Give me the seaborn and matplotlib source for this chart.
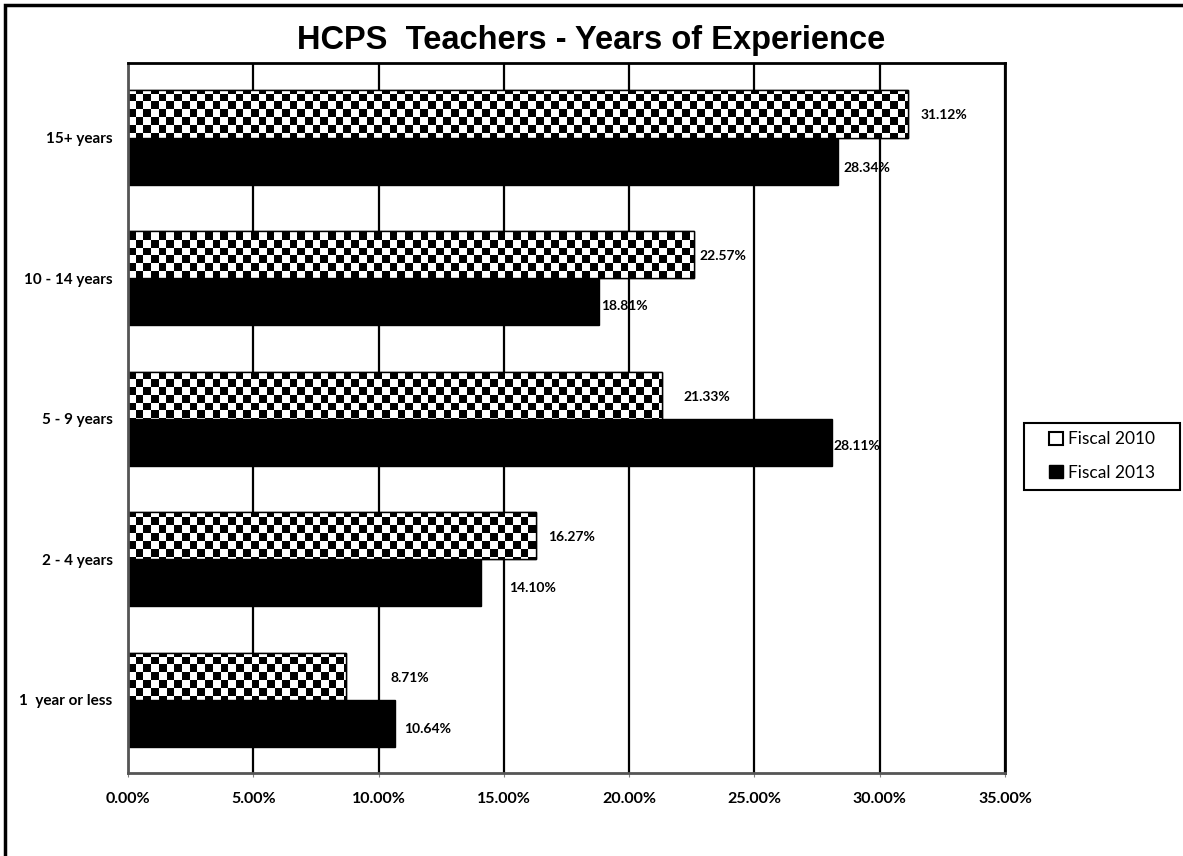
import numpy as np
import pandas as pd
import matplotlib
matplotlib.use("Agg")
import matplotlib.pyplot as plt
import seaborn as sns
from matplotlib.patches import Patch, Rectangle
from matplotlib.ticker import FuncFormatter

categories = ["15+ years", "10 - 14 years", "5 - 9 years", "2 - 4 years", "1  year or less"]
series_names = ["Fiscal 2010", "Fiscal 2013"]
fiscal_2010 = [31.12, 22.57, 21.33, 16.27, 8.71]
fiscal_2013 = [28.34, 18.81, 28.11, 14.10, 10.64]
x_ticks = [0, 5, 10, 15, 20, 25, 30, 35]

# label offsets (points) to mimic the manual placement
label_dx_2010 = [9, 4, 15, 9, 32]
label_dx_2013 = [4, 1, 1, 20, 7]
label_dy_2013 = [-4, -2, -2, -3, -3]

df = pd.DataFrame({
    "category": categories * 2,
    "series": [series_names[0]] * 5 + [series_names[1]] * 5,
    "value": fiscal_2010 + fiscal_2013,
})

sns.set_style("white")
plt.rcParams["font.family"] = ["Lato", "DejaVu Sans"]
plt.rcParams["text.color"] = "black"
plt.rcParams["xtick.color"] = "black"
plt.rcParams["ytick.color"] = "black"

fig = plt.figure(figsize=(11.83, 8.56), dpi=100)
ax = fig.add_axes([128 / 1183, 1 - 773 / 856, (1005 - 128) / 1183, (773 - 63) / 856])

sns.barplot(data=df, y="category", x="value", hue="series", order=categories,
            hue_order=series_names, palette=["white", "black"], orient="h",
            width=0.67, ax=ax, legend=False, edgecolor="black", linewidth=1.0,
            saturation=1)

# checker texture for Fiscal 2010
ncols, nrows = 114, 92
checker = (np.add.outer(np.arange(nrows), np.arange(ncols)) % 2).astype(float)
for bar in ax.containers[0]:
    bar.set_facecolor("white")
    im = ax.imshow(checker, cmap="gray", interpolation="nearest", aspect="auto",
                   extent=[0, 1, 0, 1], transform=ax.transAxes, zorder=bar.get_zorder() + 0.1)
    im.set_clip_path(bar)
    outline = Rectangle(bar.get_xy(), bar.get_width(), bar.get_height(), fill=False,
                        edgecolor="black", linewidth=1.0, zorder=bar.get_zorder() + 0.2)
    ax.add_patch(outline)

ax.set_xlim(0, 35)
ax.set_ylim(4.52, -0.53)
ax.set_autoscale_on(False)

# data labels
for cont, vals, dxs, dys in [(ax.containers[0], fiscal_2010, label_dx_2010, [0] * 5),
                             (ax.containers[1], fiscal_2013, label_dx_2013, label_dy_2013)]:
    for bar, v, dx, dy in zip(cont, vals, dxs, dys):
        yc = bar.get_y() + bar.get_height() / 2
        ax.annotate(f"{v:.2f}%", xy=(bar.get_x() + bar.get_width(), yc),
                    xytext=(dx, -1 + dy), textcoords="offset points", va="center", ha="left",
                    fontsize=10, fontweight="bold", zorder=10)

ax.set_xticks(x_ticks)
ax.xaxis.set_major_formatter(FuncFormatter(lambda v, p: f"{v:.2f}%"))
ax.grid(axis="x", color="black", linewidth=1.6)
ax.grid(axis="y", visible=False)
ax.set_axisbelow(True)
ax.set_xlabel("")
ax.set_ylabel("")
ax.tick_params(axis="x", labelsize=11.5, pad=11, length=3, color="gray", direction="out", bottom=True)
ax.tick_params(axis="y", labelsize=11, pad=11, length=0)
for lab in ax.get_xticklabels() + ax.get_yticklabels():
    lab.set_fontweight("bold")
for side in ["top", "right"]:
    ax.spines[side].set_color("black")
    ax.spines[side].set_linewidth(2)
for side in ["left", "bottom"]:
    ax.spines[side].set_color("#555555")
    ax.spines[side].set_linewidth(2)

fig.text(591 / 1183, 1 - 40 / 856, "HCPS  Teachers - Years of Experience",
         family="Liberation Sans", fontweight="bold", fontsize=23.5, ha="center", va="center",
         color="black")

handles = [Patch(facecolor="white", edgecolor="black", linewidth=1.5, label=series_names[0]),
           Patch(facecolor="black", edgecolor="black", label=series_names[1])]
leg = fig.legend(handles=handles, loc="center", bbox_to_anchor=(1102 / 1183, 1 - 456 / 856),
                 bbox_transform=fig.transFigure, frameon=False, fontsize=12.5,
                 handlelength=0.8, handleheight=0.8, handletextpad=0.3, labelspacing=1.0,
                 borderpad=0.0, borderaxespad=0)

fig.patches.append(Rectangle((1024 / 1183, 1 - 490 / 856), 156 / 1183, 67 / 856,
                             transform=fig.transFigure, fill=False, edgecolor="black",
                             linewidth=1.5, figure=fig))
fig.patches.append(Rectangle((5 / 1183, -0.05), 1.1, 1 - 5 / 856 + 0.05, transform=fig.transFigure,
                             fill=False, edgecolor="black", linewidth=2.5, figure=fig))

fig.savefig("out.png", dpi=100)
